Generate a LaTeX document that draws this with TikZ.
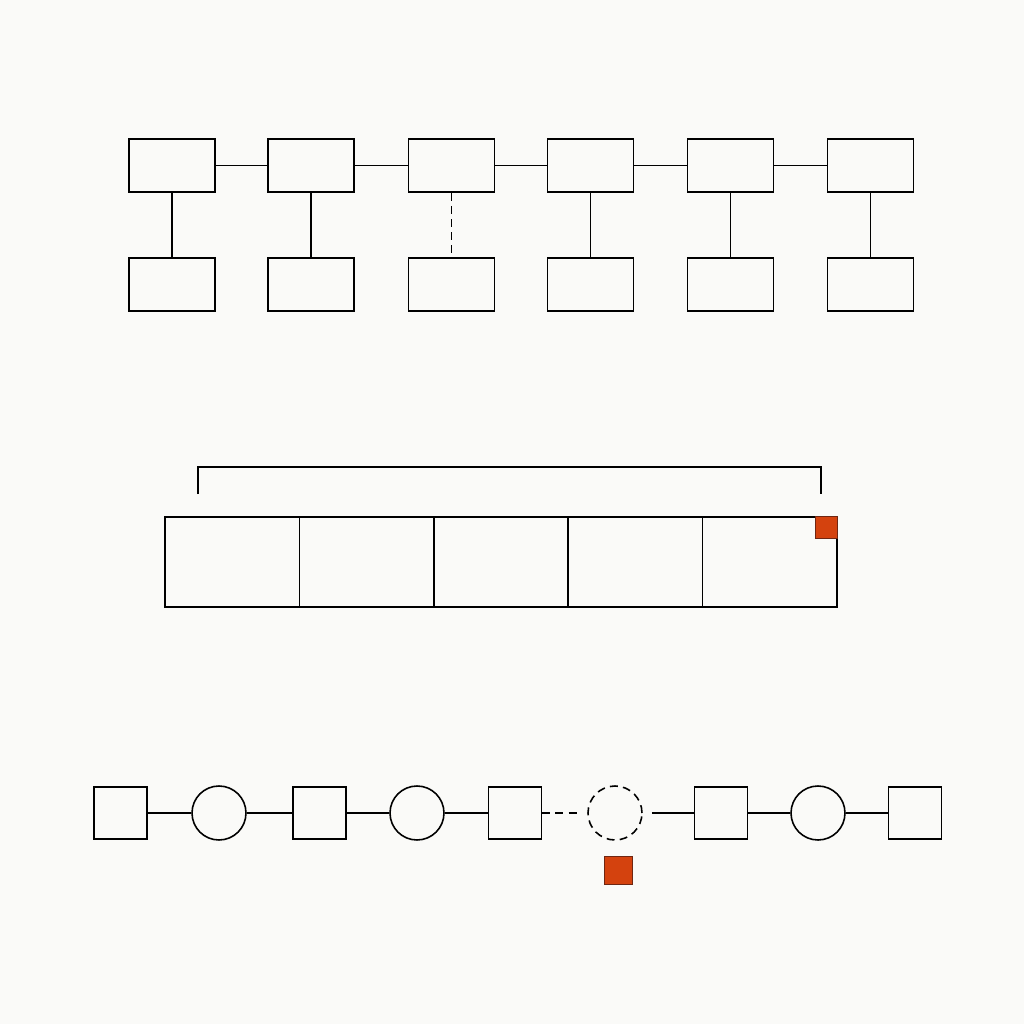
\documentclass[tikz,border=0pt]{standalone}
\usetikzlibrary{positioning}
\definecolor{paper}{RGB}{250,250,248}
\definecolor{mark}{RGB}{212,66,14}
\definecolor{markedge}{RGB}{110,38,18}
\begin{document}
\begin{tikzpicture}[x=0.02cm,y=-0.02cm,line width=0.9pt]
\tikzstyle{every node}+=[inner sep=0pt]
\tikzstyle{box}=[draw,minimum width=1.72cm,minimum height=1.06cm]
\tikzstyle{cell}=[draw,minimum width=2.688cm,minimum height=1.8cm]
\tikzstyle{sq}=[draw,minimum width=1.06cm,minimum height=1.04cm]
\tikzstyle{ring}=[draw,circle,minimum size=1.08cm]
\tikzstyle{gap}=[dash pattern=on 4.5pt off 3pt]
\tikzstyle{flag}=[fill=mark,draw=markedge,line width=0.5pt]
\fill [paper] (0,0) rectangle (1024,1024);
\useasboundingbox (0,0) rectangle (1024,1024);
% top row
\node [box] (t1) at (172,165.5) {};
\node [box] (t2) at (311,165.5) {};
\node [box] (t3) at (451.5,165.5) {};
\node [box] (t4) at (590.5,165.5) {};
\node [box] (t5) at (730.5,165.5) {};
\node [box] (t6) at (870.5,165.5) {};
\node [box] (b1) at (172,284.5) {};
\node [box] (b2) at (311,284.5) {};
\node [box] (b3) at (451.5,284.5) {};
\node [box] (b4) at (590.5,284.5) {};
\node [box] (b5) at (730.5,284.5) {};
\node [box] (b6) at (870.5,284.5) {};
\draw (t1) -- (t2);
\draw (t2) -- (t3);
\draw (t3) -- (t4);
\draw (t4) -- (t5);
\draw (t5) -- (t6);
\draw (t1) -- (b1);
\draw (t2) -- (b2);
\draw [gap] (t3) -- (b3);
\draw (t4) -- (b4);
\draw (t5) -- (b5);
\draw (t6) -- (b6);
% middle strip
\draw (198,494) -- (198,467) -- (821,467) -- (821,494);
\node [cell] (c1) at (232.2,562) {};
\node [cell] (c2) at (366.6,562) {};
\node [cell] (c3) at (501,562) {};
\node [cell] (c4) at (635.4,562) {};
\node [cell] (c5) at (769.8,562) {};
\node [flag,minimum size=0.44cm] (m1) at (826,527.5) {};
% bottom chain
\node [sq] (s1) at (120.5,813) {};
\node [ring] (r1) at (219,813) {};
\node [sq] (s2) at (319.5,813) {};
\node [ring] (r2) at (417,813) {};
\node [sq] (s3) at (515,813) {};
\node [ring,gap] (r3) at (615,813) {};
\node [sq] (s4) at (721,813) {};
\node [ring] (r4) at (818,813) {};
\node [sq] (s5) at (915,813) {};
\draw (s1) -- (r1);
\draw (r1) -- (s2);
\draw (s2) -- (r2);
\draw (r2) -- (s3);
\draw [gap,shorten >=0.18cm] (s3) -- (r3);
\draw [shorten <=0.18cm] (r3) -- (s4);
\draw (s4) -- (r4);
\draw (r4) -- (s5);
\node [flag,minimum size=0.56cm] (m2) at (618,870.5) {};
\end{tikzpicture}
\end{document}
